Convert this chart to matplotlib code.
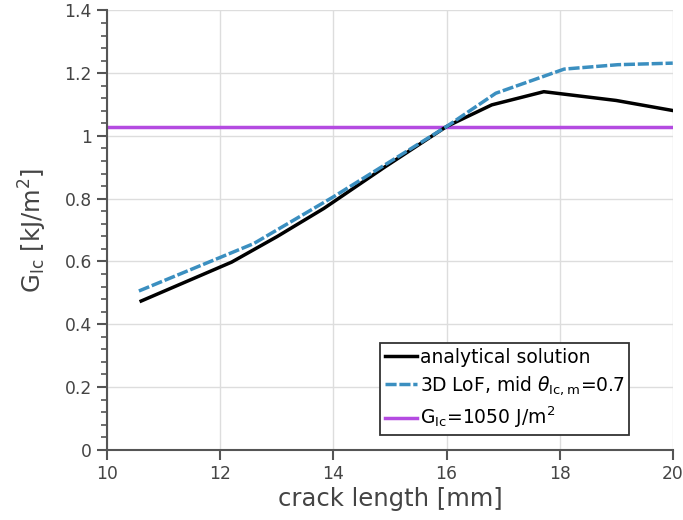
import matplotlib
matplotlib.use('Agg')
import matplotlib.pyplot as plt
from matplotlib.ticker import AutoMinorLocator

# Values
crack_analytical = [10.6, 12.2, 13.0, 13.83, 14.9, 16.0, 16.8, 17.72, 19.0, 20.0]
g_analytical = [0.474, 0.598, 0.679, 0.769, 0.90, 1.03, 1.099, 1.141, 1.113, 1.081]

crack_lof = [10.56, 12.59, 14.0, 16.0, 16.87, 18.08, 19.03, 20.0]
g_lof = [0.506, 0.657, 0.806, 1.03, 1.136, 1.213, 1.227, 1.232]

g_ic_const = 1.03
x_limits = [10, 20]
y_limits = [0, 1.4]

labels = ['analytical solution',
          r'3D LoF, mid $\theta_{\mathregular{Ic,m}}$=0.7',
          r'$\mathregular{G_{Ic}}$=1050 J/m$\mathregular{^2}$']

grey = '#555555'

fig = plt.figure(figsize=(6.83, 5.2), dpi=100)
ax = fig.add_axes([0.157, 0.135, 0.828, 0.845])

ax.plot(crack_analytical, g_analytical, color='black', lw=2.5, label=labels[0], zorder=3)
ax.plot(crack_lof, g_lof, color='#3b8fc0', lw=2.5, ls=(0, (3.2, 0.8)), label=labels[1], zorder=4)
ax.axhline(g_ic_const, color='#b44be1', lw=2.5, label=labels[2], zorder=2)

ax.set_xlim(x_limits)
ax.set_ylim(y_limits)
ax.set_xticks([10, 12, 14, 16, 18, 20])
ax.set_xticklabels(['10', '12', '14', '16', '18', '20'])
ax.set_yticks([0, 0.2, 0.4, 0.6, 0.8, 1.0, 1.2, 1.4])
ax.set_yticklabels(['0', '0.2', '0.4', '0.6', '0.8', '1', '1.2', '1.4'])
ax.yaxis.set_minor_locator(AutoMinorLocator(5))

ax.grid(True, color='#dddddd', lw=1)
ax.set_axisbelow(True)
for side in ['top', 'right']:
    ax.spines[side].set_visible(False)
for side in ['left', 'bottom']:
    ax.spines[side].set_color(grey)
    ax.spines[side].set_linewidth(1.5)
ax.tick_params(which='major', length=7.5, width=1.5, color=grey, labelcolor='#444444', labelsize=12.3)
ax.tick_params(which='minor', length=4, width=1.2, color=grey)

ax.set_xlabel('crack length [mm]', fontsize=17.5, color='#444444', labelpad=3)
ax.set_ylabel(r'$\mathregular{G_{Ic}}$ [kJ/m$\mathregular{^2}$]', fontsize=17.5, color='#444444', labelpad=11)

leg = ax.legend(loc='lower right', bbox_to_anchor=(0.922, 0.034), fontsize=13.5, fancybox=False,
                framealpha=1, edgecolor='#333333', handlelength=1.7, handletextpad=0.15,
                borderpad=0.25, labelspacing=0.4, borderaxespad=0)
leg.get_frame().set_linewidth(1.3)

fig.savefig('out.png', dpi=100)
